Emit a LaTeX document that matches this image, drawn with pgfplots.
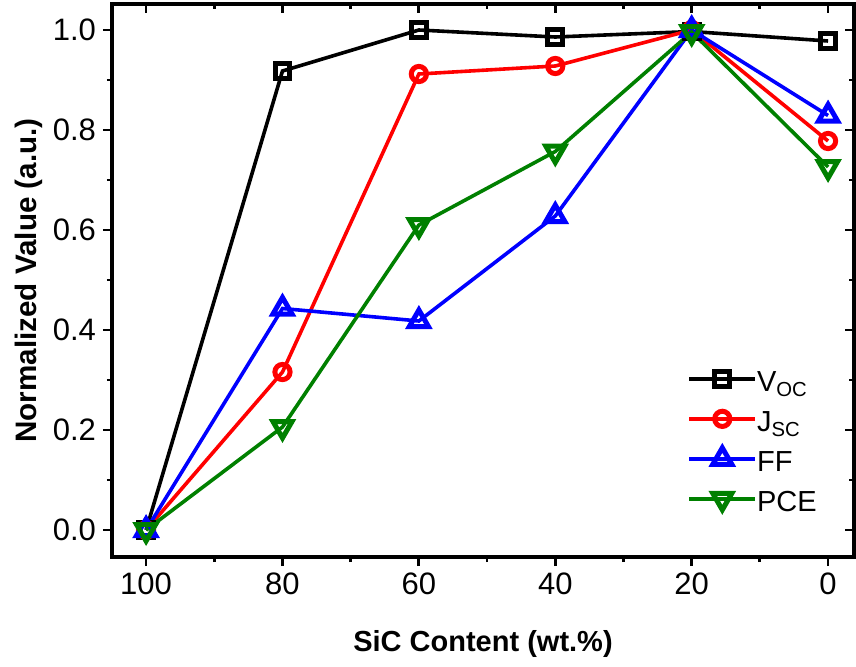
\documentclass[border=0pt]{standalone}
\usepackage{pgfplots}
\pgfplotsset{compat=1.18}
\usepackage{fontspec}
\setmainfont{Liberation Sans}

\definecolor{cV}{RGB}{0,0,0}
\definecolor{cJ}{RGB}{255,0,0}
\definecolor{cF}{RGB}{0,0,255}
\definecolor{cP}{RGB}{0,128,0}

\pgfplotsset{
  frame/.style={
    width=371pt, height=276.5pt, scale only axis,
    xmin=-3.8, xmax=105, x dir=reverse,
    ymin=-0.054, ymax=1.052,
    xtick={0,20,40,60,80,100},
    ytick={0,0.2,0.4,0.6,0.8,1.0},
    minor x tick num=1, minor y tick num=1,
    major tick length=4.5pt, minor tick length=2.5pt,
    every tick/.style={black, line width=1.4pt},
    axis line style={line width=1.6pt},
  }
}

\begin{document}
\begin{tikzpicture}
\useasboundingbox (-56pt,-54.5pt) rectangle (372pt,278.5pt);

% inward ticks on the top and right edges
\begin{axis}[frame,
  xtick pos=upper, ytick pos=upper, tick align=inside,
  xticklabels={}, yticklabels={}]
\end{axis}

\begin{axis}[frame,
  xtick pos=lower, ytick pos=lower, tick align=outside,
  /pgf/number format/assume math mode=true,
  yticklabel style={/pgf/number format/.cd, fixed, fixed zerofill, precision=1},
  xticklabel style={/pgf/number format/.cd, fixed},
  tick label style={font=\fontsize{15.5}{18}\selectfont},
  xlabel={SiC Content (wt.\%)},
  ylabel={Normalized Value (a.u.)},
  xlabel style={font=\bfseries\fontsize{14.5}{17}\selectfont, yshift=-11pt},
  ylabel style={font=\bfseries\fontsize{14.8}{17}\selectfont, yshift=-2pt},
  legend style={draw=none, fill=none, at={(0.767,0.35)}, anchor=north west,
    font=\fontsize{14.5}{17}\selectfont, row sep=0pt,
    nodes={text height=12pt, text depth=8pt, inner sep=0pt, outer xsep=3pt},
    /tikz/every even column/.append style={column sep=0pt}},
  legend cell align=left,
  legend image code/.code={
    \draw[mark repeat=2, mark phase=2, yshift=4.5pt] plot coordinates {(0pt,0pt) (16.5pt,0pt) (33pt,0pt)};
  },
  every axis plot/.append style={line width=1.8pt, mark options={fill=white, line width=2.5pt}},
]
\addplot[cV, mark=square, mark size=3.7pt] coordinates {
  (100,0.0) (80,0.918) (60,1.0) (40,0.986) (20,0.997) (0,0.978)};
\addlegendentry{V\textsubscript{OC}}
\addplot[cJ, mark=o, mark size=3.8pt] coordinates {
  (100,0.0) (80,0.316) (60,0.912) (40,0.928) (20,1.0) (0,0.778)};
\addlegendentry{J\textsubscript{SC}}
\addplot[cF, mark=triangle, mark size=5.5pt] coordinates {
  (100,0.0) (80,0.443) (60,0.418) (40,0.628) (20,1.0) (0,0.829)};
\addlegendentry{FF}
\addplot[cP, mark=triangle, mark size=5.5pt, mark options={rotate=180, fill=white, line width=2.5pt}] coordinates {
  (100,0.0) (80,0.206) (60,0.61) (40,0.757) (20,0.996) (0,0.726)};
\addlegendentry{PCE}
\end{axis}
\end{tikzpicture}
\end{document}
